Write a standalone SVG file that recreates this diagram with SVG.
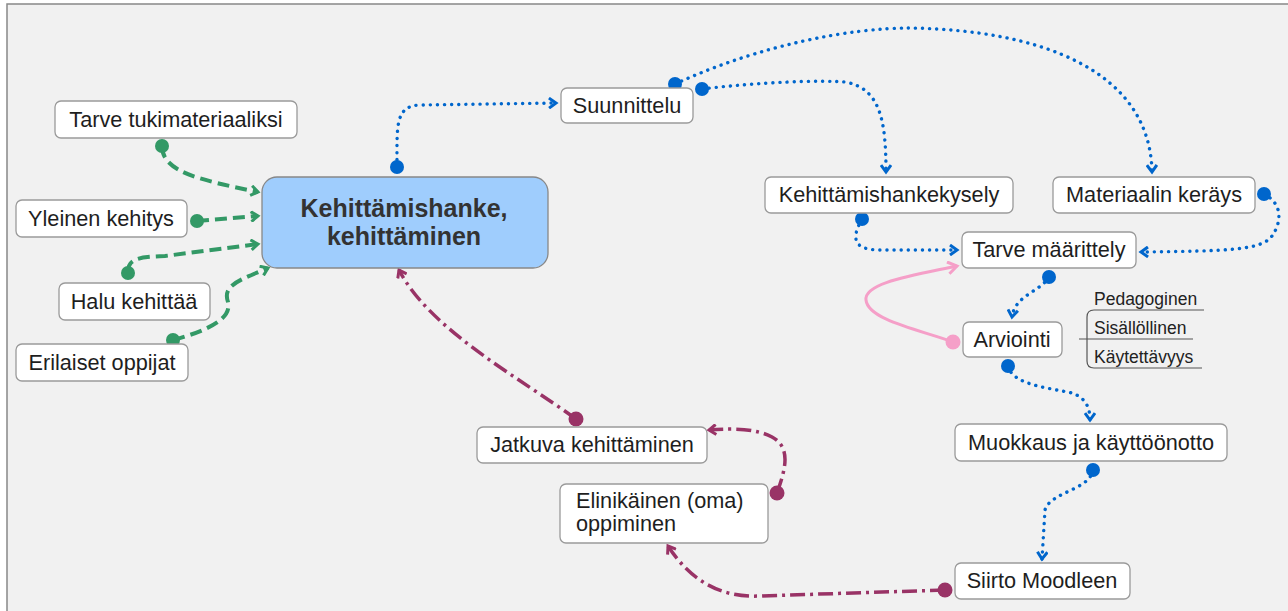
<svg xmlns="http://www.w3.org/2000/svg" width="1288" height="611" viewBox="0 0 1288 611">
<defs>
<style>
.box{fill:#ffffff;stroke:#9a9a9a;stroke-width:1.3}
.lbl{font-family:"Liberation Sans",Arial,sans-serif;font-size:21.7px;fill:#1e1e1e}
.sub{font-family:"Liberation Sans",Arial,sans-serif;font-size:17.5px;fill:#222222}
.main{font-family:"Liberation Sans",Arial,sans-serif;font-size:25px;font-weight:bold;fill:#333333}
.g{fill:none;stroke:#339966;stroke-width:4;stroke-dasharray:12 6}
.b{fill:none;stroke:#0066cc;stroke-width:3.4;stroke-dasharray:0.1 7;stroke-linecap:round}
.m{fill:none;stroke:#993366;stroke-width:3.5;stroke-dasharray:15 5 3 5}
.p{fill:none;stroke:#f59fc8;stroke-width:3}
.gd{fill:#339966}.bd{fill:#0066cc}.md{fill:#993366}.pd{fill:#f59fc8}
.tree{fill:none;stroke:#555555;stroke-width:1.2}
</style>
<marker id="ag" markerWidth="12" markerHeight="12" refX="9" refY="6" orient="auto" markerUnits="userSpaceOnUse"><path d="M2,1 L9,6 L2,11" fill="none" stroke="#339966" stroke-width="3"/></marker>
<marker id="ab" markerWidth="12" markerHeight="12" refX="9" refY="6" orient="auto" markerUnits="userSpaceOnUse"><path d="M2,1 L9,6 L2,11" fill="none" stroke="#0066cc" stroke-width="3"/></marker>
<marker id="am" markerWidth="12" markerHeight="12" refX="9" refY="6" orient="auto" markerUnits="userSpaceOnUse"><path d="M2,1 L9,6 L2,11" fill="none" stroke="#993366" stroke-width="3"/></marker>
<marker id="ap" markerWidth="14" markerHeight="14" refX="11" refY="7" orient="auto" markerUnits="userSpaceOnUse"><path d="M2,1 L11,7 L2,13" fill="none" stroke="#f59fc8" stroke-width="3"/></marker>
</defs>
<rect x="0" y="0" width="1288" height="611" fill="#ffffff"/>
<rect x="7" y="4" width="1290" height="620" fill="#f1f1f1" stroke="#888888" stroke-width="1.5"/>

<g id="connectors">
<path class="g" d="M162,146 C162,172 200,180 258,192" marker-end="url(#ag)"/>
<path class="g" d="M197,221 L258,216" marker-end="url(#ag)"/>
<path class="g" d="M128,272 C128,258 140,257 165,256 L258,244" marker-end="url(#ag)"/>
<path class="g" d="M173,340 C210,330 232,318 228,302 C222,285 240,280 268,268" marker-end="url(#ag)"/>

<path class="b" d="M397,167 C397,125 395,106 420,105 L556,103" marker-end="url(#ab)"/>
<path class="b" d="M675,84 C760,45 850,28 910,28 C1040,30 1150,70 1152,172" marker-end="url(#ab)"/>
<path class="b" d="M702,89 C760,82 820,80 845,82 C880,88 886,120 886,172" marker-end="url(#ab)"/>
<path class="b" d="M862,219 C850,240 855,250 880,250 L957,250" marker-end="url(#ab)"/>
<path class="b" d="M1264,194 C1285,205 1280,225 1272,236 C1262,250 1230,251 1141,252" marker-end="url(#ab)"/>
<path class="b" d="M1049,277 C1040,292 1015,295 1012,317" marker-end="url(#ab)"/>
<path class="b" d="M1008,366 C1012,385 1050,388 1072,393 C1086,398 1090,408 1090,420" marker-end="url(#ab)"/>
<path class="b" d="M1093,470 C1090,490 1050,492 1045,510 L1042,559" marker-end="url(#ab)"/>

<path class="p" d="M953,342 C920,330 868,320 866,300 C864,283 910,276 957,266" marker-end="url(#ap)"/>

<path class="m" d="M576,419 C520,378 430,330 399,270" marker-end="url(#am)"/>
<path class="m" d="M777,493 C785,470 792,448 772,437 C757,429 735,428 709,430" marker-end="url(#am)"/>
<path class="m" d="M945,590 L760,596 C720,598 690,580 668,546" marker-end="url(#am)"/>

<circle class="gd" cx="162" cy="146" r="7"/>
<circle class="gd" cx="197" cy="221" r="7"/>
<circle class="gd" cx="128" cy="273" r="7"/>
<circle class="gd" cx="173" cy="340" r="7"/>
<circle class="bd" cx="397" cy="167" r="7"/>
<circle class="bd" cx="675" cy="84" r="7"/>
<circle class="bd" cx="702" cy="89" r="7"/>
<circle class="bd" cx="862" cy="219" r="7"/>
<circle class="bd" cx="1264" cy="194" r="7"/>
<circle class="bd" cx="1049" cy="277" r="7"/>
<circle class="bd" cx="1008" cy="366" r="7"/>
<circle class="bd" cx="1093" cy="470" r="7"/>
<circle class="pd" cx="953" cy="342" r="7.5"/>
<circle class="md" cx="576" cy="419" r="7.5"/>
<circle class="md" cx="777" cy="493" r="7.5"/>
<circle class="md" cx="945" cy="590" r="7.5"/>
</g>

<g id="n-main">
<rect x="262" y="177" width="286" height="91" rx="15" fill="#9fcdfd" stroke="#888888" stroke-width="1.3"/>
<text class="main" x="404" y="217" text-anchor="middle">Kehittämishanke,</text>
<text class="main" x="404" y="245" text-anchor="middle">kehittäminen</text>
</g>
<g id="n-tarve-tuki"><rect class="box" x="55" y="101" width="242" height="37" rx="6"/><text class="lbl" x="176" y="127" text-anchor="middle">Tarve tukimateriaaliksi</text></g>
<g id="n-yleinen"><rect class="box" x="16" y="200" width="171" height="37" rx="6"/><text class="lbl" x="101" y="226" text-anchor="middle">Yleinen kehitys</text></g>
<g id="n-halu"><rect class="box" x="59" y="283" width="151" height="37" rx="6"/><text class="lbl" x="134" y="309" text-anchor="middle">Halu kehittää</text></g>
<g id="n-erilaiset"><rect class="box" x="16" y="344" width="172" height="37" rx="6"/><text class="lbl" x="102" y="370" text-anchor="middle">Erilaiset oppijat</text></g>
<g id="n-suunnittelu"><rect class="box" x="561" y="88" width="132" height="35" rx="6"/><text class="lbl" x="627" y="113" text-anchor="middle">Suunnittelu</text></g>
<g id="n-kysely"><rect class="box" x="765" y="177" width="248" height="36" rx="6"/><text class="lbl" x="889" y="202" text-anchor="middle">Kehittämishankekysely</text></g>
<g id="n-materiaali"><rect class="box" x="1053" y="177" width="202" height="36" rx="6"/><text class="lbl" x="1154" y="202" text-anchor="middle">Materiaalin keräys</text></g>
<g id="n-tarve-maar"><rect class="box" x="962" y="232" width="174" height="36" rx="6"/><text class="lbl" x="1049" y="257" text-anchor="middle">Tarve määrittely</text></g>
<g id="n-arviointi"><rect class="box" x="963" y="322" width="99" height="35" rx="6"/><text class="lbl" x="1012" y="347" text-anchor="middle">Arviointi</text></g>
<g id="n-arviointi-sub">
<path class="tree" d="M1204,310 L1094,310 Q1087,310 1087,317 L1087,361 Q1087,368 1094,368 L1202,368"/>
<path class="tree" d="M1079,339 L1193,339"/>
<text class="sub" x="1094" y="305">Pedagoginen</text>
<text class="sub" x="1094" y="334">Sisällöllinen</text>
<text class="sub" x="1094" y="363">Käytettävyys</text>
</g>
<g id="n-muokkaus"><rect class="box" x="955" y="424" width="272" height="37" rx="6"/><text class="lbl" x="1091" y="450" text-anchor="middle">Muokkaus ja käyttöönotto</text></g>
<g id="n-siirto"><rect class="box" x="955" y="563" width="175" height="36" rx="6"/><text class="lbl" x="1042" y="588" text-anchor="middle">Siirto Moodleen</text></g>
<g id="n-jatkuva"><rect class="box" x="477" y="427" width="230" height="36" rx="6"/><text class="lbl" x="592" y="452" text-anchor="middle">Jatkuva kehittäminen</text></g>
<g id="n-elinikainen"><rect class="box" x="560" y="484" width="208" height="59" rx="6"/><text class="lbl" x="576" y="508">Elinikäinen (oma)</text><text class="lbl" x="576" y="531">oppiminen</text></g>
</svg>
